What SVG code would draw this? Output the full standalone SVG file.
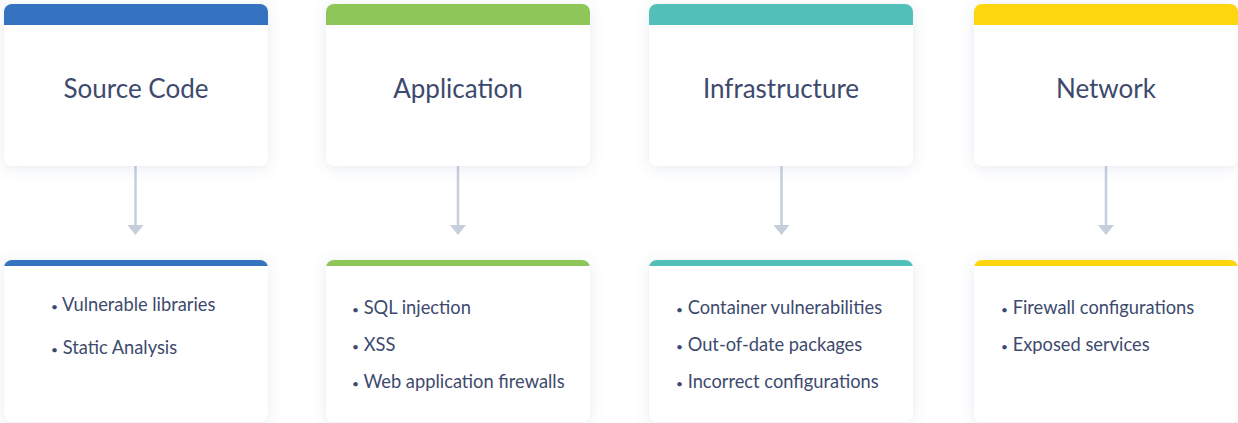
<svg xmlns="http://www.w3.org/2000/svg" width="1238" height="423" viewBox="0 0 1238 423">
<defs>
<filter id="sh" x="-20%" y="-20%" width="140%" height="140%">
<feDropShadow dx="0" dy="2" stdDeviation="7" flood-color="#6a7ea8" flood-opacity="0.16"/>
</filter>
<clipPath id="c1"><rect x="4" y="4" width="264" height="162" rx="8"/></clipPath>
<clipPath id="c2"><rect x="326" y="4" width="264" height="162" rx="8"/></clipPath>
<clipPath id="c3"><rect x="649" y="4" width="264" height="162" rx="8"/></clipPath>
<clipPath id="c4"><rect x="974" y="4" width="264" height="162" rx="8"/></clipPath>
<clipPath id="d1"><rect x="4" y="260" width="264" height="162" rx="8"/></clipPath>
<clipPath id="d2"><rect x="326" y="260" width="264" height="162" rx="8"/></clipPath>
<clipPath id="d3"><rect x="649" y="260" width="264" height="162" rx="8"/></clipPath>
<clipPath id="d4"><rect x="974" y="260" width="264" height="162" rx="8"/></clipPath>
<marker id="ah" viewBox="0 0 10 16" refX="0" refY="8" markerWidth="10" markerHeight="16" markerUnits="userSpaceOnUse" orient="auto">
<path d="M0,0 L10,8 L0,16 Z" fill="#c5cfdc"/>
</marker>
</defs>
<style>
.card{fill:#ffffff;filter:url(#sh)}
.title{font-family:Lato,"Noto Sans",sans-serif;font-size:26px;fill:#3d4a6d;text-anchor:middle}
.item{font-family:Lato,"Noto Sans",sans-serif;font-size:18.3px;fill:#3d4a6d}
.b{font-size:12px}
.conn{stroke:#c5cfdc;stroke-width:2.5;fill:none}
.blue{fill:#3572c0}.green{fill:#8fc65a}.teal{fill:#52c0b8}.yellow{fill:#fed610}
</style>
<rect width="1238" height="423" fill="#ffffff"/>
<g id="connectors">
<line class="conn" x1="135.5" y1="166" x2="135.5" y2="225" marker-end="url(#ah)"/>
<line class="conn" x1="458" y1="166" x2="458" y2="225" marker-end="url(#ah)"/>
<line class="conn" x1="781.5" y1="166" x2="781.5" y2="225" marker-end="url(#ah)"/>
<line class="conn" x1="1106" y1="166" x2="1106" y2="225" marker-end="url(#ah)"/>
</g>
<g id="source-code">
<rect class="card" x="4" y="4" width="264" height="162" rx="8"/>
<rect class="blue" x="4" y="4" width="264" height="21" clip-path="url(#c1)"/>
<text class="title" x="136" y="98">Source Code</text>
</g>
<g id="application">
<rect class="card" x="326" y="4" width="264" height="162" rx="8"/>
<rect class="green" x="326" y="4" width="264" height="21" clip-path="url(#c2)"/>
<text class="title" x="458" y="98">Application</text>
</g>
<g id="infrastructure">
<rect class="card" x="649" y="4" width="264" height="162" rx="8"/>
<rect class="teal" x="649" y="4" width="264" height="21" clip-path="url(#c3)"/>
<text class="title" x="781" y="98">Infrastructure</text>
</g>
<g id="network">
<rect class="card" x="974" y="4" width="264" height="162" rx="8"/>
<rect class="yellow" x="974" y="4" width="264" height="21" clip-path="url(#c4)"/>
<text class="title" x="1106" y="98">Network</text>
</g>
<g id="source-code-details">
<rect class="card" x="4" y="260" width="264" height="162" rx="8"/>
<rect class="blue" x="4" y="260" width="264" height="6" clip-path="url(#d1)"/>
<text class="item" x="51" y="311"><tspan class="b">•</tspan> Vulnerable libraries</text>
<text class="item" x="51" y="354"><tspan class="b">•</tspan> Static Analysis</text>
</g>
<g id="application-details">
<rect class="card" x="326" y="260" width="264" height="162" rx="8"/>
<rect class="green" x="326" y="260" width="264" height="6" clip-path="url(#d2)"/>
<text class="item" x="352" y="314"><tspan class="b">•</tspan> SQL injection</text>
<text class="item" x="352" y="351"><tspan class="b">•</tspan> XSS</text>
<text class="item" x="352" y="388"><tspan class="b">•</tspan> Web application firewalls</text>
</g>
<g id="infrastructure-details">
<rect class="card" x="649" y="260" width="264" height="162" rx="8"/>
<rect class="teal" x="649" y="260" width="264" height="6" clip-path="url(#d3)"/>
<text class="item" x="676" y="314"><tspan class="b">•</tspan> Container vulnerabilities</text>
<text class="item" x="676" y="351"><tspan class="b">•</tspan> Out-of-date packages</text>
<text class="item" x="676" y="388"><tspan class="b">•</tspan> Incorrect configurations</text>
</g>
<g id="network-details">
<rect class="card" x="974" y="260" width="264" height="162" rx="8"/>
<rect class="yellow" x="974" y="260" width="264" height="6" clip-path="url(#d4)"/>
<text class="item" x="1001" y="314"><tspan class="b">•</tspan> Firewall configurations</text>
<text class="item" x="1001" y="351"><tspan class="b">•</tspan> Exposed services</text>
</g>
</svg>
